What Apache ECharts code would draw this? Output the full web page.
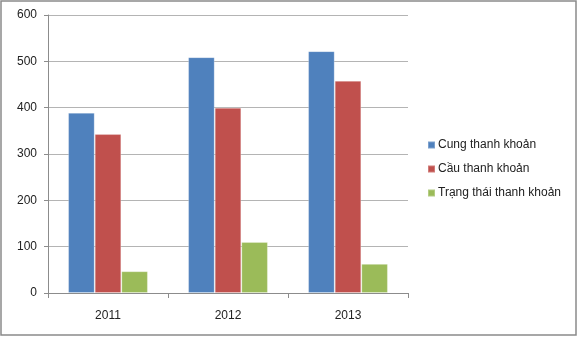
<!DOCTYPE html>
<html>
<head>
<meta charset="utf-8">
<script src="https://cdn.jsdelivr.net/npm/echarts@6/dist/echarts.min.js"></script>
<style>
  html, body { margin: 0; padding: 0; background: #fff; }
  #chart { width: 578px; height: 337px; }
</style>
</head>
<body>
<div id="chart"></div>
<script>
// Years on the category axis
const years = ['2011', '2012', '2013'];
// Liquidity supply, demand and position
const cungThanhKhoan = [389, 509, 522];
const cauThanhKhoan = [343, 400, 458];
const trangThaiThanhKhoan = [47, 110, 63];
const seriesNames = ['Cung thanh khoản', 'Cầu thanh khoản', 'Trạng thái thanh khoản'];
const seriesColors = ['#4F81BD', '#C0504D', '#9BBB59'];
const yTicks = { min: 0, max: 600, interval: 100 };

const font = '"Liberation Sans", Arial, sans-serif';
const chart = echarts.init(document.getElementById('chart'), null, { renderer: 'canvas' });

const values = [cungThanhKhoan, cauThanhKhoan, trangThaiThanhKhoan];

chart.setOption({
  animation: false,
  backgroundColor: '#ffffff',
  textStyle: { fontFamily: font },
  graphic: [{
    type: 'rect',
    silent: true,
    shape: { x: 1, y: 1, width: 575, height: 334 },
    style: { fill: 'none', stroke: '#8a8a8a', lineWidth: 1.5 }
  }],
  grid: { left: 48, right: 170, top: 15, bottom: 44, containLabel: false },
  legend: {
    orient: 'vertical',
    left: 422,
    top: 134,
    itemWidth: 7,
    itemHeight: 7,
    itemGap: 12,
    icon: 'rect',
    textStyle: { fontFamily: font, fontSize: 12, color: '#222', padding: [0, 0, 0, -2] },
    data: seriesNames
  },
  xAxis: {
    type: 'category',
    data: years,
    axisLine: { lineStyle: { color: '#8c8c8c', width: 1 } },
    axisTick: { show: true, length: 5, alignWithLabel: false, lineStyle: { color: '#8c8c8c' } },
    axisLabel: { fontFamily: font, fontSize: 12, color: '#222', margin: 17 }
  },
  yAxis: {
    type: 'value',
    min: yTicks.min,
    max: yTicks.max,
    interval: yTicks.interval,
    axisLine: { show: true, lineStyle: { color: '#8c8c8c', width: 1 } },
    axisTick: { show: true, length: 4, lineStyle: { color: '#8c8c8c' } },
    axisLabel: { fontFamily: font, fontSize: 12, color: '#222', margin: 11 },
    splitLine: { show: true, lineStyle: { color: '#b4b4b4', width: 1 } }
  },
  series: seriesNames.map((name, i) => ({
    name: name,
    type: 'bar',
    data: values[i],
    barGap: '0%',
    barCategoryGap: '33.5%',
    itemStyle: {
      color: seriesColors[i],
      borderColor: 'rgba(255,255,255,0.25)',
      borderWidth: 1
    }
  }))
});
</script>
</body>
</html>
